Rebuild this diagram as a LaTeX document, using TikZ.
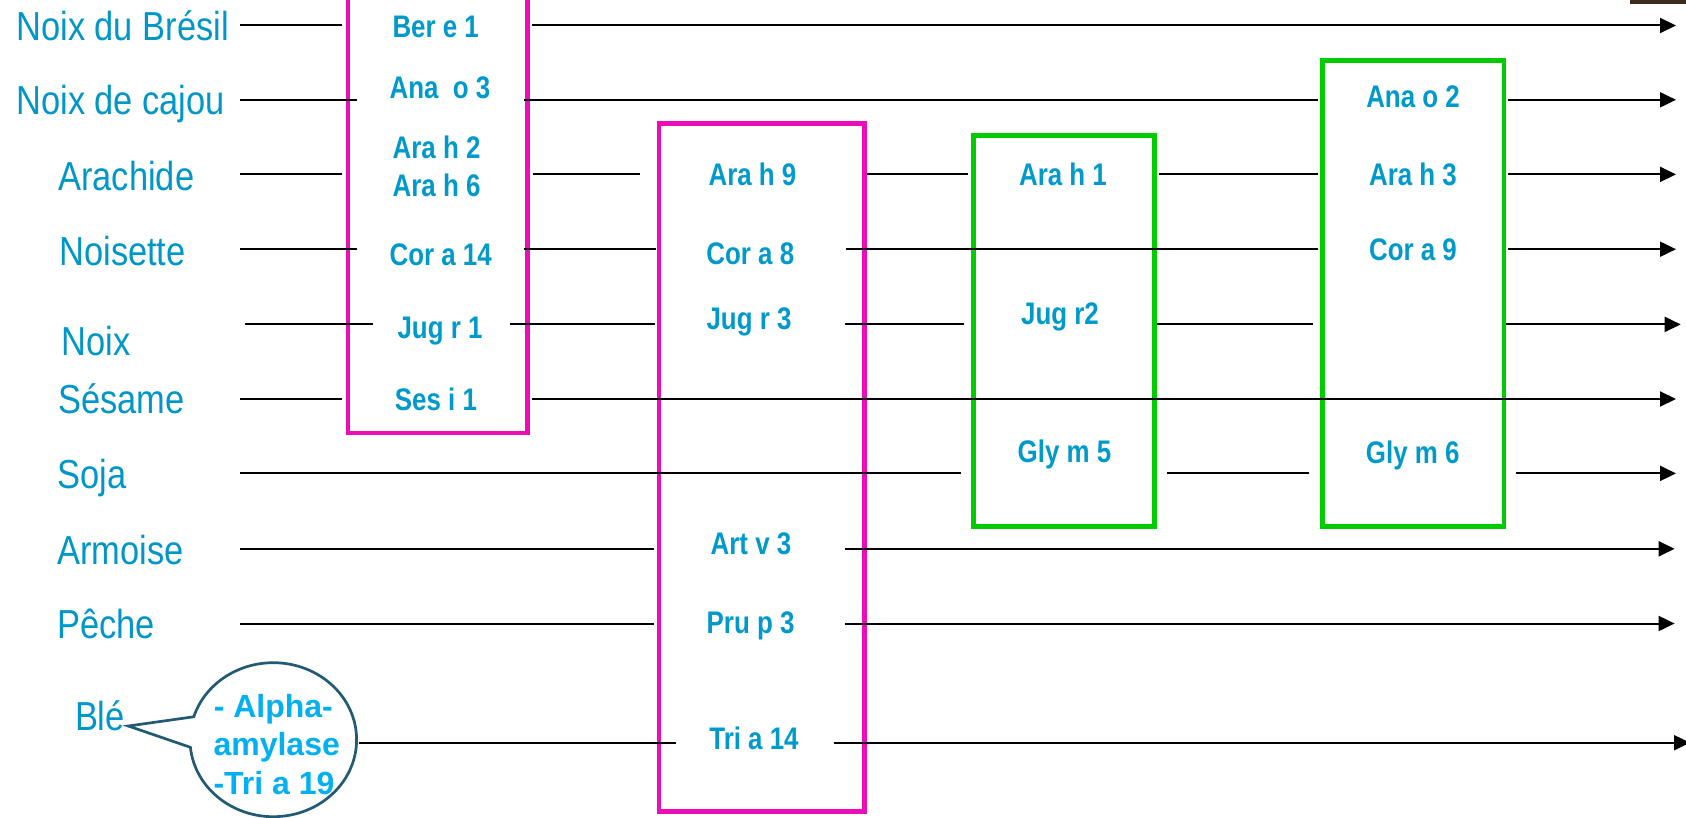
\documentclass[tikz,border=0pt]{standalone}
\usepackage{fontspec}
\usetikzlibrary{arrows.meta,shapes.callouts}
\newfontfamily\labf[FakeStretch=0.85]{Liberation Sans}
\newfontfamily\boxf[FakeStretch=0.83]{Liberation Sans}
\newfontfamily\bubf{Liberation Sans}
\definecolor{labcol}{RGB}{0,150,200}
\definecolor{boxtxt}{RGB}{0,153,204}
\definecolor{bubtxt}{RGB}{0,176,240}
\definecolor{pinkc}{RGB}{236,12,184}
\definecolor{greenc}{RGB}{0,204,0}
\definecolor{bubline}{RGB}{35,90,115}
\definecolor{darkc}{RGB}{60,42,30}
\newcommand\hseg[5]{%
  \coordinate (#1a) at (#3,#2);
  \coordinate (#1b) at (#4,#2);
  \draw[#5] (#1a) -- (#1b);}
\tikzset{
  lab/.style={anchor=base west,inner sep=0pt,text=labcol,font=\labf\fontsize{20.25pt}{24pt}\selectfont},
  btx/.style={anchor=base,inner sep=0pt,text=boxtxt,font=\boxf\bfseries\fontsize{15.6pt}{18pt}\selectfont},
  bub/.style={anchor=base,inner sep=0pt,text=bubtxt,font=\bubf\bfseries\fontsize{16pt}{19pt}\selectfont},
  pinkbox/.style={draw=pinkc,line width=2.4pt,inner sep=0pt,rectangle},
  greenbox/.style={draw=greenc,line width=2.4pt,inner sep=0pt,rectangle},
  ln/.style={line width=1pt,black},
  arr/.style={line width=1pt,black,-{Triangle[length=8pt,width=7.5pt]}},
}
\begin{document}
\begin{tikzpicture}[x=0.5pt,y=-0.5pt]
\useasboundingbox (0,0) rectangle (1686,818);
\fill[white] (0,0) rectangle (1686,818);
\fill[darkc] (1630,0) rectangle (1686,4);

% boxes
\node[pinkbox,minimum width=89.75pt,minimum height=221.5pt] (b1) at (437.75,211.5) {};
\node[pinkbox,minimum width=102.75pt,minimum height=344.2pt] (b2) at (761.75,467.5) {};
\node[greenbox,minimum width=90.5pt,minimum height=195.5pt] (b3) at (1064.3,331.2) {};
\node[greenbox,minimum width=90.65pt,minimum height=233.2pt] (b4) at (1413.35,293.6) {};

% bubble
\coordinate (tip) at (128.3,726);
\node[ellipse callout,draw=bubline,line width=1.35pt,minimum width=83.3pt,minimum height=77pt,inner sep=0pt,
      callout absolute pointer={(tip)},callout pointer arc=23] (bubble) at (273.3,739.7) {};

% row lines
% 1 Noix du Bresil
\hseg{r1p}{25.5}{240}{342}{ln}
\hseg{r1q}{25.5}{532}{1676}{arr}
% 2 Noix de cajou
\hseg{r2p}{99.8}{240}{357}{ln}
\hseg{r2q}{99.8}{524}{1318}{ln}
\hseg{r2r}{99.8}{1508}{1676}{arr}
% 3 Arachide
\hseg{r3p}{174.4}{240}{342}{ln}
\hseg{r3q}{174.4}{533}{640}{ln}
\hseg{r3r}{174.4}{867}{968}{ln}
\hseg{r3s}{174.4}{1159}{1318}{ln}
\hseg{r3t}{174.4}{1508}{1676}{arr}
% 4 Noisette
\hseg{r4p}{249.2}{240}{357}{ln}
\hseg{r4q}{249.2}{524}{655.6}{ln}
\hseg{r4r}{249.2}{846}{1318}{ln}
\hseg{r4s}{249.2}{1508}{1676}{arr}
% 5 Noix
\hseg{r5p}{324.4}{245}{373}{ln}
\hseg{r5q}{324.4}{510}{654.6}{ln}
\hseg{r5r}{324.4}{845}{964}{ln}
\hseg{r5s}{324.4}{1157}{1313}{ln}
\hseg{r5t}{324.4}{1506}{1680.7}{arr}
% 6 Sesame
\hseg{r6p}{399}{240}{342}{ln}
\hseg{r6q}{399}{532}{1676}{arr}
% 7 Soja
\hseg{r7p}{473.4}{240}{960.7}{ln}
\hseg{r7q}{473.4}{1167}{1309}{ln}
\hseg{r7r}{473.4}{1516}{1676}{arr}
% 8 Armoise
\hseg{r8p}{548.8}{240}{654.4}{ln}
\hseg{r8q}{548.8}{845}{1674.6}{arr}
% 9 Peche
\hseg{r9p}{623.5}{240}{654.4}{ln}
\hseg{r9q}{623.5}{845}{1674.6}{arr}
% 10 Ble
\coordinate (r10a) at (359.3,742.7);
\coordinate (r10b) at (676,742.7);
\draw[ln] (r10a) -- (r10b);
\hseg{r10q}{742.7}{833.5}{1690}{arr}

% left labels
\node[lab] (l1) at (16,40.7) {Noix du Brésil};
\node[lab] (l2) at (16,115) {Noix de cajou};
\node[lab] (l3) at (58,190.7) {Arachide};
\node[lab] (l4) at (59,265) {Noisette};
\node[lab] (l5) at (61.4,355) {Noix};
\node[lab] (l6) at (58,413) {Sésame};
\node[lab] (l7) at (57.4,488.3) {Soja};
\node[lab] (l8) at (57,564) {Armoise};
\node[lab] (l9) at (57,638) {Pêche};
\node[lab] (l10) at (74.6,730.7) {Blé};

% box 1 texts
\node[btx] (t11) at (435.7,37.7) {Ber e 1};
\node[btx] (t12) at (440,99) {Ana~~o 3};
\node[btx] (t13) at (436.6,159) {Ara h 2};
\node[btx] (t14) at (436.6,196.7) {Ara h 6};
\node[btx] (t15) at (440.7,265.7) {Cor a 14};
\node[btx] (t16) at (440,338.3) {Jug r 1};
\node[btx] (t17) at (436,410) {Ses i 1};
% box 2 texts
\node[btx] (t21) at (752.5,186) {Ara h 9};
\node[btx] (t22) at (750.3,264.3) {Cor a 8};
\node[btx] (t23) at (749,329) {Jug r 3};
\node[btx] (t24) at (751,554) {Art v 3};
\node[btx] (t25) at (750.6,633.3) {Pru p 3};
\node[btx] (t26) at (754,749.3) {Tri a 14};
% box 3 texts
\node[btx] (t31) at (1063,186) {Ara h 1};
\node[btx] (t32) at (1060,324.3) {Jug r2};
\node[btx] (t33) at (1064.5,462.7) {Gly m 5};
% box 4 texts
\node[btx] (t41) at (1413,107.4) {Ana o 2};
\node[btx] (t42) at (1413,186) {Ara h 3};
\node[btx] (t43) at (1413,260.7) {Cor a 9};
\node[btx] (t44) at (1412.7,463.8) {Gly m 6};

% bubble texts
\node[bub] (bt1) at (273.3,717.3) {- Alpha-};
\node[bub] (bt2) at (276.7,755) {amylase};
\node[bub] (bt3) at (274,794) {-Tri a 19};
\end{tikzpicture}
\end{document}
